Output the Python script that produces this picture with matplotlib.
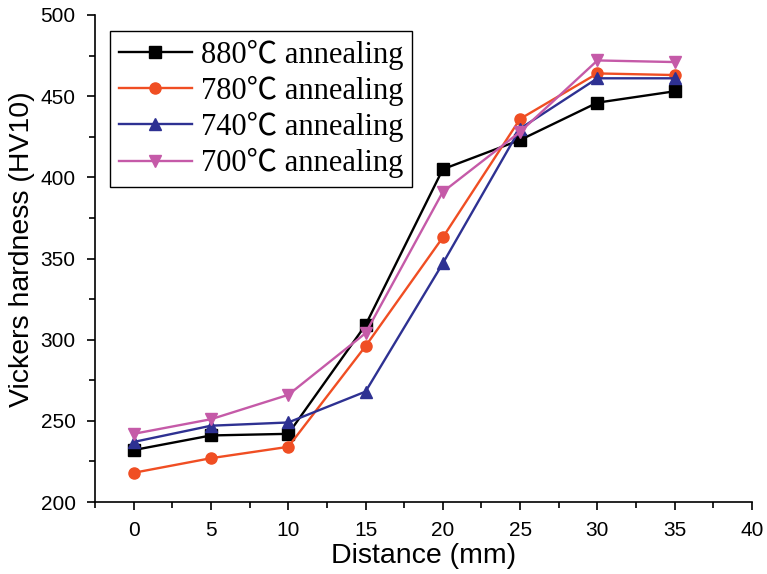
import numpy as np
import matplotlib
matplotlib.use("Agg")
import matplotlib.pyplot as plt
from matplotlib.ticker import MultipleLocator

distance = [0, 5, 10, 15, 20, 25, 30, 35]
hv_880 = [232, 241, 242, 309, 405, 423, 446, 453]
hv_780 = [218, 227, 234, 296, 363, 436, 464, 463]
hv_740 = [237, 247, 249, 268, 347, 430, 461, 461]
hv_700 = [242, 251, 266, 304, 391, 428, 472, 471]

series = [
    ("880℃ annealing", hv_880, "#000000", "s"),
    ("780℃ annealing", hv_780, "#F04E23", "o"),
    ("740℃ annealing", hv_740, "#2E3192", "^"),
    ("700℃ annealing", hv_700, "#C55AA8", "v"),
]

fig = plt.figure(figsize=(7.67, 5.74), dpi=100)
ax = fig.add_axes([0.1239, 0.1254, 0.8565, 0.8485])

for label, vals, col, mk in series:
    ax.plot(distance, vals, color=col, lw=1.7, marker=mk, ms=8, label=label)

ax.set_xlim(-2.5, 40)
ax.set_ylim(200, 500)
ax.xaxis.set_major_locator(MultipleLocator(5))
ax.xaxis.set_minor_locator(MultipleLocator(2.5))
ax.yaxis.set_major_locator(MultipleLocator(50))
ax.yaxis.set_minor_locator(MultipleLocator(25))
ax.tick_params(which="major", direction="out", length=6, width=1.2, labelsize=15)
ax.tick_params(axis="x", which="major", pad=8)
ax.tick_params(axis="y", which="major", pad=8)
ax.tick_params(which="minor", direction="out", length=4, width=1.2)
for lab in ax.get_xticklabels() + ax.get_yticklabels():
    lab.set_family("Liberation Sans")
ax.spines["top"].set_visible(False)
ax.spines["right"].set_visible(False)
ax.spines["left"].set_linewidth(1.2)
ax.spines["bottom"].set_linewidth(1.2)

ax.set_xlabel("Distance (mm)", fontsize=20.5, family="Liberation Sans")
ax.set_ylabel("Vickers hardness (HV10)", fontsize=20.5, family="Liberation Sans")
ax.xaxis.set_label_coords(0.5, -0.084)
ax.yaxis.set_label_coords(-0.092, 0.52)

leg = ax.legend(loc="upper left", bbox_to_anchor=(0.0228, 0.967), fancybox=False,
                edgecolor="black", framealpha=1, handlelength=2.4, handletextpad=0.3,
                labelspacing=0.2, borderpad=0.28, borderaxespad=0.0,
                prop={"family": ["Liberation Serif", "Noto Sans CJK SC"], "size": 22})
leg.get_frame().set_linewidth(1.0)

fig.savefig("out.png", dpi=100)
